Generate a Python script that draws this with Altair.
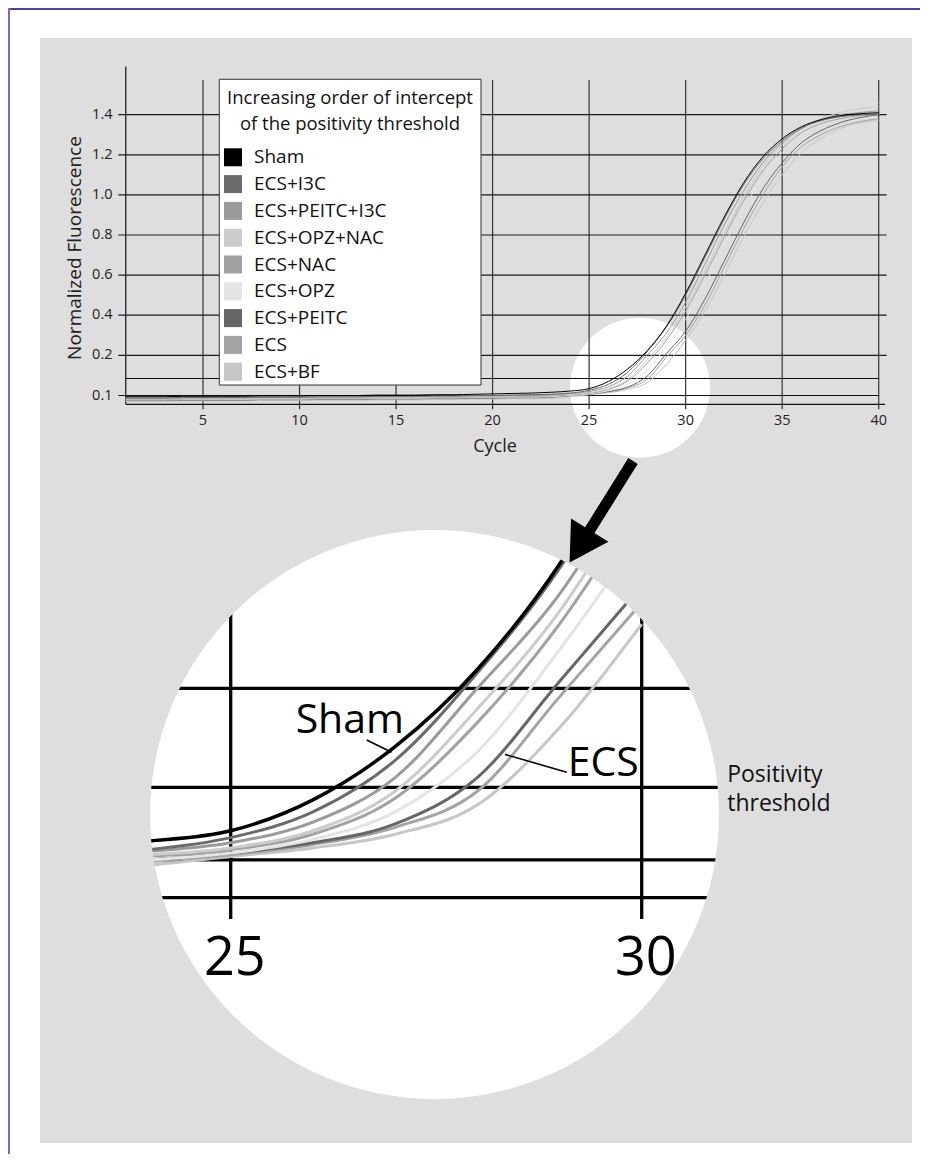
import altair as alt
import pandas as pd

# ---------------- data ----------------
series = ["Sham", "ECS+I3C", "ECS+PEITC+I3C", "ECS+OPZ+NAC", "ECS+NAC",
          "ECS+OPZ", "ECS+PEITC", "ECS", "ECS+BF"]
colors = ["#000000", "#6b6b6b", "#9a9a9a", "#cbcbcb", "#a2a2a2",
          "#e4e4e4", "#666666", "#a3a3a3", "#c6c6c6"]
cycles = list(range(1, 41))

sham = [0.097, 0.097, 0.097, 0.098, 0.098, 0.098, 0.098, 0.099, 0.099, 0.099,
        0.100, 0.100, 0.100, 0.101, 0.101, 0.101, 0.102, 0.102, 0.103, 0.104,
        0.105, 0.106, 0.108, 0.111, 0.117, 0.135, 0.166, 0.222, 0.345, 0.510,
        0.700, 0.890, 1.060, 1.190, 1.280, 1.340, 1.375, 1.395, 1.405, 1.410]
ecs_i3c = [0.094, 0.094, 0.094, 0.095, 0.095, 0.095, 0.095, 0.096, 0.096, 0.096,
           0.097, 0.097, 0.097, 0.098, 0.098, 0.098, 0.099, 0.099, 0.100, 0.100,
           0.101, 0.102, 0.103, 0.106, 0.113, 0.128, 0.158, 0.218, 0.340, 0.500,
           0.690, 0.880, 1.050, 1.180, 1.270, 1.335, 1.370, 1.390, 1.400, 1.405]
ecs_peitc_i3c = [0.093, 0.093, 0.093, 0.094, 0.094, 0.094, 0.094, 0.095, 0.095, 0.095,
                 0.096, 0.096, 0.096, 0.097, 0.097, 0.097, 0.098, 0.098, 0.099, 0.099,
                 0.100, 0.101, 0.102, 0.105, 0.110, 0.122, 0.148, 0.200, 0.310, 0.465,
                 0.655, 0.850, 1.020, 1.160, 1.260, 1.330, 1.375, 1.400, 1.410, 1.420]
ecs_opz_nac = [0.091, 0.091, 0.091, 0.092, 0.092, 0.092, 0.092, 0.093, 0.093, 0.093,
               0.094, 0.094, 0.094, 0.095, 0.095, 0.095, 0.096, 0.096, 0.097, 0.097,
               0.098, 0.099, 0.100, 0.103, 0.107, 0.117, 0.140, 0.188, 0.290, 0.440,
               0.620, 0.810, 0.990, 1.140, 1.250, 1.330, 1.380, 1.410, 1.430, 1.440]
ecs_nac = [0.090, 0.090, 0.090, 0.091, 0.091, 0.091, 0.091, 0.092, 0.092, 0.092,
           0.093, 0.093, 0.093, 0.094, 0.094, 0.094, 0.095, 0.095, 0.096, 0.096,
           0.097, 0.098, 0.099, 0.102, 0.106, 0.115, 0.136, 0.180, 0.275, 0.420,
           0.600, 0.790, 0.970, 1.120, 1.230, 1.310, 1.355, 1.380, 1.395, 1.400]
ecs_opz = [0.089, 0.089, 0.089, 0.090, 0.090, 0.090, 0.090, 0.091, 0.091, 0.091,
           0.092, 0.092, 0.092, 0.093, 0.093, 0.093, 0.094, 0.094, 0.095, 0.095,
           0.096, 0.096, 0.097, 0.100, 0.104, 0.112, 0.128, 0.163, 0.245, 0.380,
           0.555, 0.750, 0.930, 1.090, 1.210, 1.300, 1.360, 1.400, 1.440, 1.460]
ecs_peitc = [0.088, 0.088, 0.088, 0.089, 0.089, 0.089, 0.089, 0.090, 0.090, 0.090,
             0.091, 0.091, 0.091, 0.092, 0.092, 0.092, 0.093, 0.093, 0.094, 0.094,
             0.095, 0.095, 0.096, 0.100, 0.104, 0.110, 0.121, 0.148, 0.208, 0.320,
             0.480, 0.670, 0.860, 1.030, 1.160, 1.260, 1.320, 1.360, 1.385, 1.400]
ecs = [0.087, 0.087, 0.087, 0.088, 0.088, 0.088, 0.088, 0.089, 0.089, 0.089,
       0.090, 0.090, 0.090, 0.091, 0.091, 0.091, 0.092, 0.092, 0.093, 0.093,
       0.094, 0.094, 0.095, 0.099, 0.103, 0.109, 0.119, 0.140, 0.195, 0.300,
       0.450, 0.640, 0.830, 1.000, 1.140, 1.240, 1.300, 1.340, 1.365, 1.380]
ecs_bf = [0.085, 0.085, 0.085, 0.086, 0.086, 0.086, 0.086, 0.087, 0.087, 0.087,
          0.088, 0.088, 0.088, 0.089, 0.089, 0.089, 0.090, 0.090, 0.091, 0.091,
          0.092, 0.092, 0.093, 0.097, 0.102, 0.107, 0.115, 0.132, 0.177, 0.275,
          0.420, 0.600, 0.790, 0.960, 1.100, 1.210, 1.280, 1.330, 1.360, 1.370]

y_ticks = [0.1, 0.2, 0.4, 0.6, 0.8, 1.0, 1.2, 1.4]
y_tick_labels = ["0.1", "0.2", "0.4", "0.6", "0.8", "1.0", "1.2", "1.4"]
x_ticks = [5, 10, 15, 20, 25, 30, 35, 40]
zoom_ticks = [25, 30]
threshold = 0.1423
axis_floor = 0.078
legend_title = ["Increasing order of intercept", "of the positivity threshold"]
threshold_label = ["Positivity", "threshold"]

values = {"Sham": sham, "ECS+I3C": ecs_i3c, "ECS+PEITC+I3C": ecs_peitc_i3c,
          "ECS+OPZ+NAC": ecs_opz_nac, "ECS+NAC": ecs_nac, "ECS+OPZ": ecs_opz,
          "ECS+PEITC": ecs_peitc, "ECS": ecs, "ECS+BF": ecs_bf}

rows = []
for s in reversed(series):
    for c, v in zip(cycles, values[s]):
        rows.append({"series": s, "cycle": c, "value": v})
curves = pd.DataFrame(rows)
others = curves[curves.series != "Sham"]
sham_df = curves[curves.series == "Sham"]
zoom_others = others[(others.cycle >= 23) & (others.cycle <= 30)]
zoom_sham = sham_df[(sham_df.cycle >= 23) & (sham_df.cycle <= 30)]

# ---------------- layout (svg pixels) ----------------
W, H = 912, 1146
GRAY = "#dedede"
FONT = "Open Sans"

top_x = alt.Scale(domain=[1, 40], range=[117.78, 870.71], nice=False, zero=False)
top_y = alt.Scale(domain=[0.06, 0.1, 0.2, 1.4, 1.64],
                  range=[403.6, 387.5, 347.3, 106.7, 58.6], nice=False, zero=False)
zoom_x = alt.Scale(domain=[25, 30], range=[222.7, 633.7], nice=False, zero=False)
zoom_y = alt.Scale(domain=[0.0, 0.1, 0.2, 1.4],
                   range=[1023.6, 851.95, 680.3, -346.9], nice=False, zero=False)
color_scale = alt.Scale(domain=series, range=colors)
legend_y = alt.Scale(domain=series, range=[149.3, 363.7], padding=0)

one = pd.DataFrame({"k": [0]})


def box(x0, x1, y0, y1, fill):
    return alt.Chart(one).mark_rect(fill=fill, strokeWidth=0).encode(
        x=alt.value(x0), x2=alt.value(x1), y=alt.value(y0), y2=alt.value(y1))


def disc(cx, cy, r_out, fill, r_in=0):
    return alt.Chart(one).mark_arc(theta=0, theta2=6.2832, outerRadius=r_out,
                                   innerRadius=r_in, fill=fill, strokeWidth=0).encode(
        x=alt.value(cx), y=alt.value(cy))


def segs(df, xs, ys, color, width):
    return alt.Chart(df).mark_rule(color=color, strokeWidth=width, strokeCap="butt").encode(
        x=alt.X("x:Q", scale=xs, axis=None), x2="x2:Q",
        y=alt.Y("y:Q", scale=ys, axis=None), y2="y2:Q")


def lines(df, xs, ys, width):
    return alt.Chart(df).mark_line(strokeWidth=width, interpolate="monotone").encode(
        x=alt.X("cycle:Q", scale=xs, axis=None),
        y=alt.Y("value:Q", scale=ys, axis=None),
        color=alt.Color("series:N", scale=color_scale, legend=None))


# ---------------- zoom panel ----------------
zoom_v = pd.DataFrame({"x": zoom_ticks, "x2": zoom_ticks, "y": 0.0656, "y2": 0.36})
zoom_h = pd.DataFrame({"y": [0.2, threshold, 0.1, axis_floor], "x": 23.3, "x2": 31.8})
zoom_h["y2"] = zoom_h["y"]

zoom_tick_df = pd.DataFrame({"cycle": [c + 0.05 for c in zoom_ticks], "value": 0.033,
                             "label": [str(c) for c in zoom_ticks]})
zoom_ticklabels = alt.Chart(zoom_tick_df).mark_text(
    font=FONT, fontSize=54, color="#000", baseline="alphabetic", align="center").encode(
    x=alt.X("cycle:Q", scale=zoom_x, axis=None), y=alt.Y("value:Q", scale=zoom_y, axis=None),
    text="label:N")

notes = pd.DataFrame({"cycle": [25.79, 29.10], "value": [0.174, 0.1489],
                      "label": ["Sham", "ECS"]})
note_text = alt.Chart(notes).mark_text(
    font=FONT, fontSize=41, color="#000", align="left", baseline="alphabetic").encode(
    x=alt.X("cycle:Q", scale=zoom_x, axis=None), y=alt.Y("value:Q", scale=zoom_y, axis=None),
    text="label:N")
leaders = pd.DataFrame({"x": [26.654, 28.337], "x2": [26.958, 29.088],
                        "y": [0.1699, 0.1615], "y2": [0.1627, 0.1511]})

thr_text = alt.Chart(one).mark_text(
    font=FONT, fontSize=23, color="#111", align="left", baseline="middle",
    lineHeight=29).encode(
    x=alt.X(datum=31.04, type="quantitative", scale=zoom_x, axis=None),
    y=alt.Y(datum=0.1495, type="quantitative", scale=zoom_y, axis=None),
    text=alt.value(threshold_label))

# ---------------- top chart ----------------
top_v = pd.DataFrame({"x": x_ticks, "x2": x_ticks, "y": 0.0657, "y2": 1.573})
top_h = pd.DataFrame({"y": y_ticks[1:], "x": 0.613, "x2": 40.41})
top_h["y2"] = top_h["y"]
top_base = pd.DataFrame({"x": [0.613, 1.0, 1.0, 1.0], "x2": [40.0, 40.0, 40.33, 1.0],
                         "y": [0.1, threshold, axis_floor, axis_floor],
                         "y2": [0.1, threshold, axis_floor, 1.64]})

ylab_df = pd.DataFrame({"value": y_ticks, "label": y_tick_labels})
ylabels = alt.Chart(ylab_df).mark_text(
    font=FONT, fontSize=14.5, color="#222", align="right", baseline="middle").encode(
    x=alt.value(104.5), y=alt.Y("value:Q", scale=top_y, axis=None), text="label:N")
xlab_df = pd.DataFrame({"cycle": x_ticks, "label": [str(c) for c in x_ticks]})
xlabels = alt.Chart(xlab_df).mark_text(
    font=FONT, fontSize=14.5, color="#222", align="center", baseline="middle").encode(
    x=alt.X("cycle:Q", scale=top_x, axis=None), y=alt.value(413), text="label:N")

x_title = alt.Chart(one).mark_text(font=FONT, fontSize=18, color="#222").encode(
    x=alt.value(487), y=alt.value(439), text=alt.value("Cycle"))
y_title = alt.Chart(one).mark_text(font=FONT, fontSize=19, color="#222", angle=270).encode(
    x=alt.value(67), y=alt.value(240), text=alt.value("Normalized Fluorescence"))

# legend
legend_box = alt.Chart(one).mark_rect(fill="white", stroke="#333", strokeWidth=1).encode(
    x=alt.value(211.3), x2=alt.value(473), y=alt.value(71.3), y2=alt.value(377))
title_df = pd.DataFrame({"line": legend_title, "ypos": [90, 115.5]})
legend_head = alt.Chart(title_df).mark_text(
    font=FONT, fontSize=18.5, color="#111", align="center", baseline="middle").encode(
    x=alt.value(342), y=alt.Y("ypos:Q", scale=None, axis=None), text="line:N")
leg_df = pd.DataFrame({"series": series})
legend_sw = alt.Chart(leg_df).mark_square(size=324, opacity=1, strokeWidth=0).encode(
    x=alt.value(225), y=alt.Y("series:N", scale=legend_y, axis=None),
    color=alt.Color("series:N", scale=color_scale, legend=None))
legend_lab = alt.Chart(leg_df).mark_text(
    font=FONT, fontSize=19, color="#111", align="left", baseline="middle").encode(
    x=alt.value(246), y=alt.Y("series:N", scale=legend_y, axis=None), text="series:N")

# arrow
arrow_shaft = alt.Chart(one).mark_rule(color="#000", strokeWidth=11, strokeCap="butt").encode(
    x=alt.value(625), y=alt.value(453), x2=alt.value(580), y2=alt.value(525))
arrow_head = alt.Chart(one).mark_point(shape="triangle", filled=True, size=1936,
                                       angle=211.9, color="#000", opacity=1).encode(
    x=alt.value(575), y=alt.value(533))

chart = alt.layer(
    box(32, 904, 30, 1135, GRAY),
    disc(426.5, 806.5, 285, "white"),
    segs(zoom_h, zoom_x, zoom_y, "#000", 3.3),
    segs(zoom_v, zoom_x, zoom_y, "#000", 3.3),
    lines(zoom_others, zoom_x, zoom_y, 3.0),
    lines(zoom_sham, zoom_x, zoom_y, 3.5),
    disc(426.5, 806.5, 470, GRAY, 284.5),
    box(0, 32, 0, H, "white"),
    box(0, W, 1135, H, "white"),
    box(0, W, 0, 2, "#5b3d94"),
    box(0, 2, 0, H, "#8667b8"),
    disc(632, 379.7, 70, "white"),
    segs(top_v, top_x, top_y, "#333", 1.2),
    segs(top_h, top_x, top_y, "#1a1a1a", 1.2),
    segs(top_base, top_x, top_y, "#111", 1.2),
    lines(others, top_x, top_y, 1.0),
    lines(sham_df, top_x, top_y, 1.0),
    ylabels, xlabels, x_title, y_title,
    legend_box, legend_head, legend_sw, legend_lab,
    arrow_shaft, arrow_head,
    zoom_ticklabels, note_text,
    segs(leaders, zoom_x, zoom_y, "#000", 1.6),
    thr_text,
).resolve_scale(
    x="independent", y="independent"
).properties(
    width=W, height=H, padding=0, autosize=alt.AutoSizeParams(type="none"),
    background="white"
).configure_view(strokeWidth=0)

chart.save("out.html", embed_options={"renderer": "svg", "actions": False})
